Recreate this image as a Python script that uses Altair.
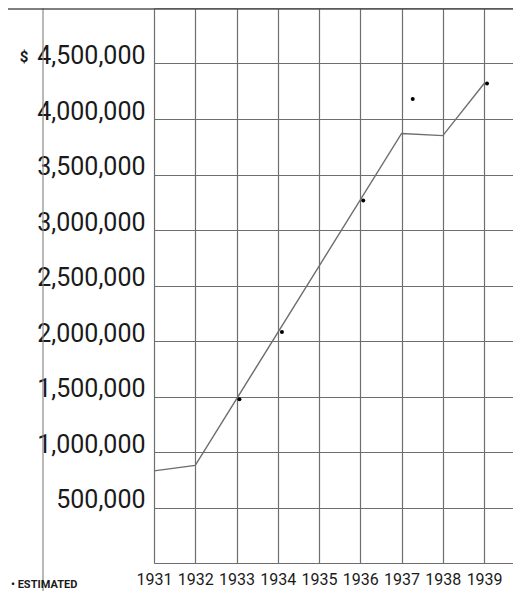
import altair as alt
import pandas as pd

# Data
line_years = [1931, 1932, 1937, 1938, 1939]
line_values = [830000, 880000, 3870000, 3850000, 4320000]

est_years = [1933.07, 1934.1, 1936.07, 1937.27, 1939.07]
est_values = [1475000, 2080000, 3265000, 4180000, 4320000]

year_ticks = [1931, 1932, 1933, 1934, 1935, 1936, 1937, 1938, 1939]
value_ticks = [0, 500000, 1000000, 1500000, 2000000, 2500000,
               3000000, 3500000, 4000000, 4500000, 5000000]

line_df = pd.DataFrame({"year": line_years, "value": line_values})
est_df = pd.DataFrame({"year": est_years, "value": est_values})

W, H = 359, 555
GRID = "#6e6e6e"

x_scale = alt.Scale(domain=[1931, 1939.7], nice=False, zero=False)
y_scale = alt.Scale(domain=[0, 5000000], nice=False)

x_axis = alt.Axis(
    values=year_ticks, format="d", title=None, grid=True, gridColor=GRID,
    gridWidth=1.2, gridOpacity=1, ticks=False, domain=False,
    labelFont="Roboto", labelFontSize=16, labelColor="#1a1a1a",
    labelPadding=8, labelAlign="center", labelOverlap=False,
)
y_axis = alt.Axis(
    values=value_ticks, title=None, grid=True, gridColor=GRID, gridWidth=1.2,
    gridOpacity=1, ticks=False, domain=False,
    labelExpr="datum.value == 0 || datum.value == 5000000 ? '' : format(datum.value, ',')",
    labelFont="Roboto", labelFontSize=25, labelColor="#1a1a1a",
    labelPadding=9, labelBaseline="alphabetic", labelAlign="right",
    labelOverlap=False,
)

base_line = alt.Chart(line_df).mark_line(color=GRID, strokeWidth=1.4).encode(
    x=alt.X("year:Q", scale=x_scale, axis=x_axis),
    y=alt.Y("value:Q", scale=y_scale, axis=y_axis),
)

dots = alt.Chart(est_df).mark_circle(color="#000000", size=16, opacity=1).encode(
    x=alt.X("year:Q", scale=x_scale),
    y=alt.Y("value:Q", scale=y_scale),
)

frame_left = alt.Chart(pd.DataFrame({"a": [0]})).mark_rule(
    color="#555555", strokeWidth=1.4, clip=False
).encode(x=alt.value(-149), y=alt.value(0), y2=alt.value(600))

scan_line = alt.Chart(pd.DataFrame({"a": [0]})).mark_rule(
    color="#8a8a8a", strokeWidth=1.2, clip=False
).encode(x=alt.value(-111), y=alt.value(-8), y2=alt.value(600))

frame_top = alt.Chart(pd.DataFrame({"a": [0]})).mark_rule(
    color="#555555", strokeWidth=1.4, clip=False
).encode(x=alt.value(-149), x2=alt.value(W), y=alt.value(1))

dollar = alt.Chart(pd.DataFrame({"v": [4500000]})).mark_text(
    text="$", font="Roboto", fontSize=15, fontWeight="bold", color="#1a1a1a",
    align="center", baseline="alphabetic", clip=False, dy=-2,
).encode(x=alt.value(-130), y=alt.Y("v:Q", scale=y_scale))

estimated = alt.Chart(pd.DataFrame({"a": [0]})).mark_text(
    text="• ESTIMATED", font="Roboto", fontSize=11, fontWeight="bold",
    color="#1a1a1a", align="left", baseline="middle", clip=False,
).encode(x=alt.value(-143), y=alt.value(577))

chart = alt.layer(
    base_line, dots, frame_left, scan_line, frame_top, dollar, estimated
).properties(
    width=W, height=H,
    autosize=alt.AutoSizeParams(type="none"),
    padding={"left": 146, "top": 0, "right": 0, "bottom": 28},
    background="white",
).configure_view(stroke=None)

chart.save("out.html", embed_options={"renderer": "svg", "actions": False})
